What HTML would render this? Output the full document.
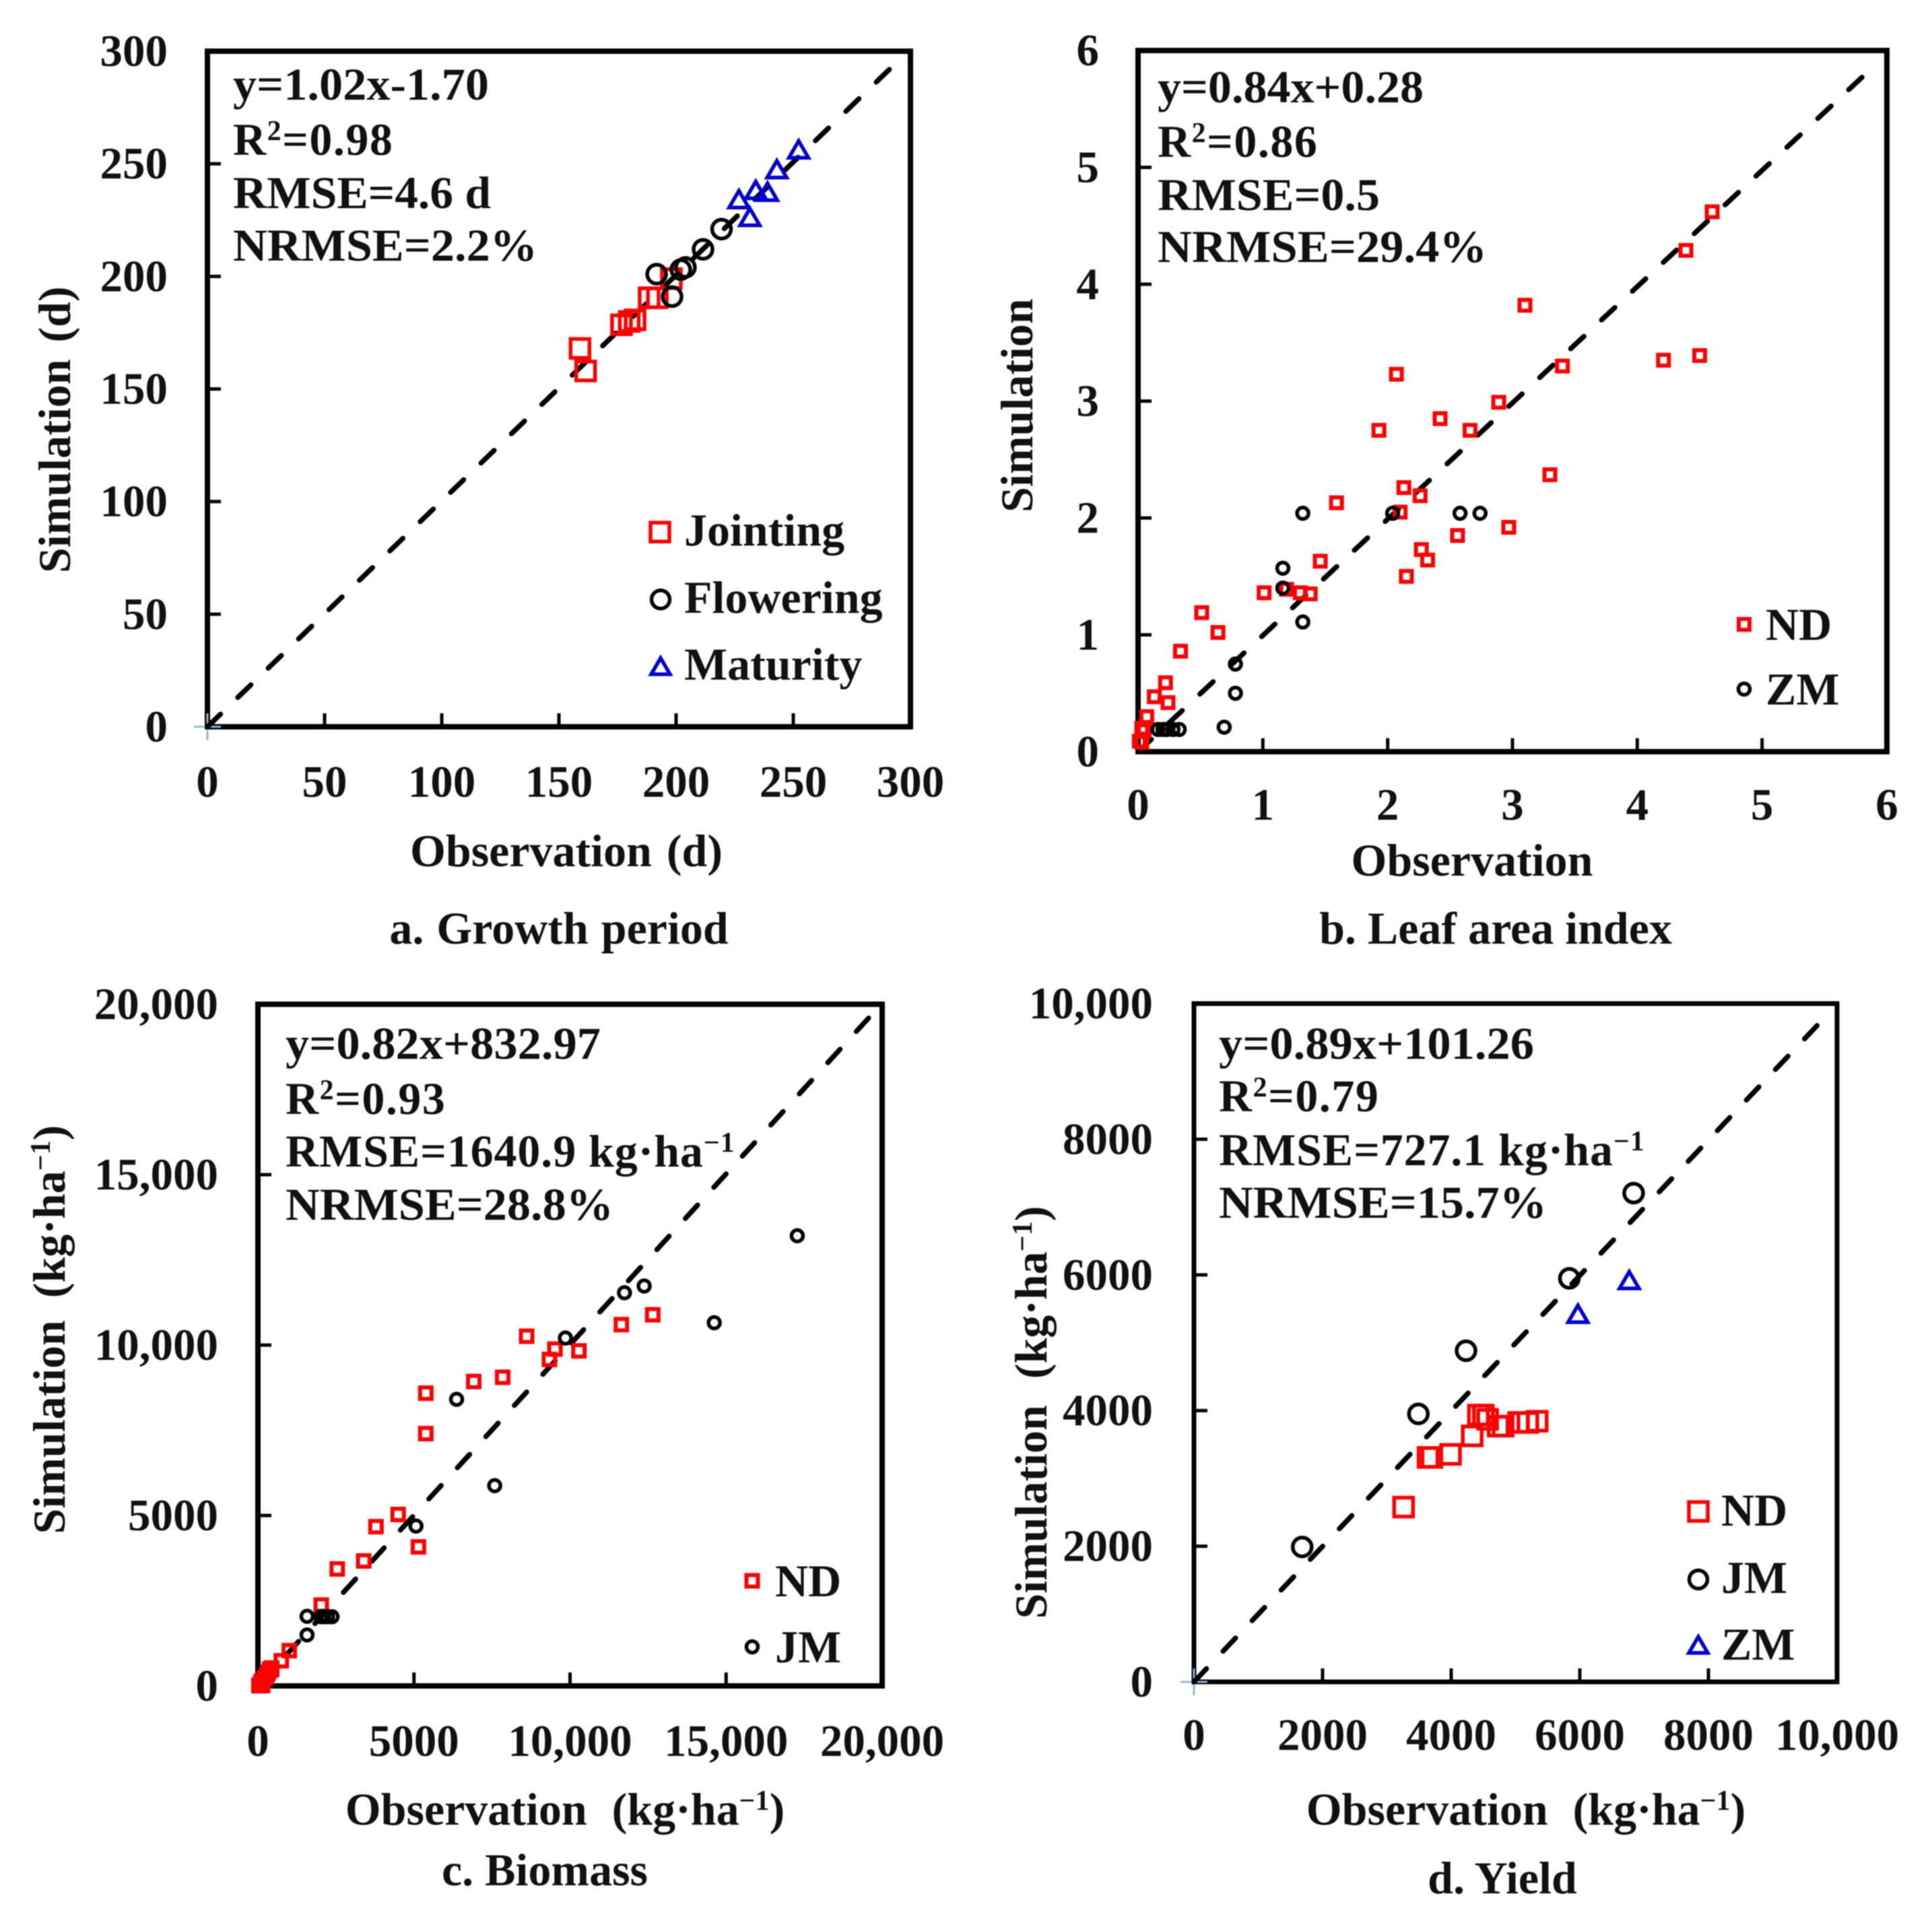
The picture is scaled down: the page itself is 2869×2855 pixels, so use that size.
<!DOCTYPE html>
<html lang="en">
<head>
<meta charset="utf-8">
<title>Simulation versus observation scatter plots</title>
<style>
html,body{margin:0;padding:0;background:#fff;}
#figure{display:block;width:2869px;height:2855px;background:#fff;filter:blur(0.9px);}
text{font-family:"Liberation Serif",serif;font-weight:bold;font-size:68px;fill:#111;}
.tick{font-size:67px;}
.sup{font-size:42px;}
.wide-r2{letter-spacing:1.5px;}
.wide-unit{letter-spacing:0.9px;}
</style>
</head>
<body>
<svg id="figure" xmlns="http://www.w3.org/2000/svg" width="2869" height="2855" viewBox="0 0 2869 2855">
  <g id="panel-a">
    <text x="346" y="148" textLength="380" lengthAdjust="spacingAndGlyphs">y=1.02x-1.70</text>
    <text x="346" y="230" class="wide-r2">R<tspan class="sup" dy="-22">2</tspan><tspan dy="22">=0.98</tspan></text>
    <text x="346" y="309" textLength="383" lengthAdjust="spacingAndGlyphs">RMSE=4.6 d</text>
    <text x="346" y="387" textLength="452" lengthAdjust="spacingAndGlyphs">NRMSE=2.2%</text>
    <text x="841" y="1286" text-anchor="middle" word-spacing="5">Observation (d)</text>
    <text x="104" y="638" text-anchor="middle" word-spacing="8" transform="rotate(-90 104 638)">Simulation (d)</text>
    <text x="830" y="1401" text-anchor="middle" word-spacing="2">a. Growth period</text>
    <g>
      <rect x="966" y="776" width="28" height="28" fill="none" stroke="#ff0000" stroke-width="5.5"/>
      <text x="1016" y="810">Jointing</text>
      <circle cx="981" cy="890" r="13.5" fill="none" stroke="#000" stroke-width="5.5"/>
      <text x="1016" y="910">Flowering</text>
      <polygon points="981,977 995,1001 967,1001" fill="none" stroke="#0000d0" stroke-width="5.5"/>
      <text x="1016" y="1009">Maturity</text>
    </g>
  </g>
  <g id="panel-b">
    <text x="1719" y="152" textLength="395" lengthAdjust="spacingAndGlyphs">y=0.84x+0.28</text>
    <text x="1719" y="233" class="wide-r2">R<tspan class="sup" dy="-22">2</tspan><tspan dy="22">=0.86</tspan></text>
    <text x="1719" y="312" textLength="330" lengthAdjust="spacingAndGlyphs">RMSE=0.5</text>
    <text x="1719" y="389" textLength="489" lengthAdjust="spacingAndGlyphs">NRMSE=29.4%</text>
    <text x="2186" y="1300" text-anchor="middle">Observation</text>
    <text x="1533" y="602" text-anchor="middle" transform="rotate(-90 1533 602)">Simulation</text>
    <text x="2221" y="1401" text-anchor="middle">b. Leaf area index</text>
    <g>
      <rect x="2582" y="919" width="16" height="16" fill="none" stroke="#ff0000" stroke-width="6"/>
      <text x="2622" y="950">ND</text>
      <circle cx="2590" cy="1023" r="8.5" fill="none" stroke="#000" stroke-width="5.5"/>
      <text x="2622" y="1046">ZM</text>
    </g>
  </g>
  <g id="panel-c">
    <text x="424" y="1572" textLength="468" lengthAdjust="spacingAndGlyphs">y=0.82x+832.97</text>
    <text x="424" y="1654" class="wide-r2">R<tspan class="sup" dy="-22">2</tspan><tspan dy="22">=0.93</tspan></text>
    <text x="424" y="1732" class="wide-unit">RMSE=1640.9 kg·ha<tspan class="sup" dy="-22">−1</tspan></text>
    <text x="424" y="1811" textLength="487" lengthAdjust="spacingAndGlyphs">NRMSE=28.8%</text>
    <text x="839" y="2709" text-anchor="middle" word-spacing="20">Observation (kg·ha<tspan class="sup" dy="-22">−1</tspan><tspan dy="22">)</tspan></text>
    <text x="96" y="1974" text-anchor="middle" word-spacing="16" transform="rotate(-90 96 1974)">Simulation (kg·ha<tspan class="sup" dy="-22">−1</tspan><tspan dy="22">)</tspan></text>
    <text x="809" y="2799" text-anchor="middle">c. Biomass</text>
    <g>
      <rect x="1108.5" y="2338.5" width="17" height="17" fill="none" stroke="#ff0000" stroke-width="6"/>
      <text x="1151" y="2370">ND</text>
      <circle cx="1117" cy="2445" r="8.5" fill="none" stroke="#000" stroke-width="5.5"/>
      <text x="1151" y="2468">JM</text>
    </g>
  </g>
  <g id="panel-d">
    <text x="1810" y="1572" textLength="468" lengthAdjust="spacingAndGlyphs">y=0.89x+101.26</text>
    <text x="1810" y="1650" class="wide-r2">R<tspan class="sup" dy="-22">2</tspan><tspan dy="22">=0.79</tspan></text>
    <text x="1810" y="1730" class="wide-unit">RMSE=727.1 kg·ha<tspan class="sup" dy="-22">−1</tspan></text>
    <text x="1810" y="1808" textLength="487" lengthAdjust="spacingAndGlyphs">NRMSE=15.7%</text>
    <text x="2266" y="2709" text-anchor="middle" word-spacing="20">Observation (kg·ha<tspan class="sup" dy="-22">−1</tspan><tspan dy="22">)</tspan></text>
    <text x="1554" y="2097" text-anchor="middle" word-spacing="22" transform="rotate(-90 1554 2097)">Simulation (kg·ha<tspan class="sup" dy="-22">−1</tspan><tspan dy="22">)</tspan></text>
    <text x="2231" y="2811" text-anchor="middle">d. Yield</text>
    <g>
      <rect x="2508" y="2230" width="28" height="28" fill="none" stroke="#ff0000" stroke-width="5.5"/>
      <text x="2556" y="2265">ND</text>
      <circle cx="2522" cy="2345" r="13.5" fill="none" stroke="#000" stroke-width="5.5"/>
      <text x="2556" y="2365">JM</text>
      <polygon points="2522,2430 2536,2454 2508,2454" fill="none" stroke="#0000d0" stroke-width="5.5"/>
      <text x="2556" y="2464">ZM</text>
    </g>
  </g>
</svg>
<script>
// Panel a: growth period (days)
const growthTicks = [0, 50, 100, 150, 200, 250, 300];
const growthTickLabels = ['0', '50', '100', '150', '200', '250', '300'];
const growthLineEnd = [293.6, 294.5];
const jointingObs = [159, 161.4, 176.7, 180, 182.5, 188.5, 192, 198];
const jointingSim = [168, 158, 178.5, 180, 180.7, 190.5, 190.5, 199];
const floweringObs = [191.7, 198.3, 202, 204, 211.5, 219.4];
const floweringSim = [201, 191, 203, 204, 212, 221];
const maturityObs = [226.8, 231.5, 234, 239, 243, 252.3];
const maturitySim = [233.7, 225.8, 237.8, 237, 247, 255.8];

// Panel b: leaf area index
const laiTicks = [0, 1, 2, 3, 4, 5, 6];
const laiTickLabels = ['0', '1', '2', '3', '4', '5', '6'];
const laiLineEnd = [5.84, 5.81];
const laiNdObs = [4.60, 4.39, 3.10, 4.21, 4.50, 3.40, 2.07, 2.89, 1.93, 2.42, 2.66, 3.30, 2.13, 2.26, 1.59, 2.10, 2.97, 2.56, 2.27, 2.32, 1.46, 2.15, 1.01, 1.19, 1.30, 1.38, 0.51, 0.64, 0.34, 0.22, 0.13, 0.24, 0.07, 0.03, 0.05, 0.01, 0.03];
const laiNdSim = [4.62, 4.29, 3.82, 3.35, 3.39, 3.30, 3.23, 2.99, 2.75, 2.85, 2.75, 2.37, 2.26, 2.19, 2.13, 2.05, 1.92, 1.85, 1.73, 1.64, 1.63, 1.50, 1.36, 1.39, 1.36, 1.35, 1.19, 1.02, 0.86, 0.59, 0.47, 0.42, 0.30, 0.20, 0.18, 0.09, 0.08];
const laiZmObs = [1.32, 2.58, 2.74, 2.04, 1.16, 1.16, 1.32, 0.78, 0.78, 0.69, 0.16, 0.20, 0.23, 0.28, 0.33];
const laiZmSim = [2.04, 2.04, 2.04, 2.04, 1.57, 1.40, 1.11, 0.75, 0.50, 0.21, 0.19, 0.19, 0.19, 0.19, 0.19];

// Panel c: biomass (kg/ha)
const biomassTicks = [0, 5000, 10000, 15000, 20000];
const biomassTickLabels = ['0', '5000', '10,000', '15,000', '20,000'];
const biomassLineEnd = [19700, 19730];
const biomassNdObs = [12650, 11645, 8610, 9517, 9340, 10285, 7842, 6916, 5379, 5379, 4493, 3783, 5143, 3389, 2542, 2030, 1005, 751, 443, 430, 372, 336, 300, 265, 200, 122, 100, 60, 30, 150];
const biomassNdSim = [10890, 10600, 10260, 9883, 9578, 9830, 9056, 8931, 8589, 7403, 5031, 4672, 4079, 3666, 3432, 2372, 1034, 738, 527, 470, 494, 395, 340, 263, 220, 66, 130, 40, 5, 10];
const biomassJmObs = [17280, 14620, 12375, 11744, 9852, 6365, 7586, 5064, 1574, 1574, 2017, 2100, 2230, 2375];
const biomassJmSim = [13208, 10656, 11734, 11536, 10207, 8410, 5876, 4690, 2042, 1495, 2030, 2030, 2030, 2030];

// Panel d: yield (kg/ha)
const yieldTicks = [0, 2000, 4000, 6000, 8000, 10000];
const yieldTickLabels = ['0', '2000', '4000', '6000', '8000', '10,000'];
const yieldLineEnd = [9788, 9774];
const yieldNdObs = [3260, 3640, 3700, 3990, 4327, 4423, 4500, 4567, 4730, 4808, 5048, 5192, 5337];
const yieldNdSim = [2577, 3309, 3309, 3354, 3626, 3933, 3933, 3870, 3770, 3770, 3825, 3825, 3843];
const yieldJmObs = [6837, 5837, 4231, 3490, 1683];
const yieldJmSim = [7206, 5949, 4882, 3951, 1989];
const yieldZmObs = [6769, 5971];
const yieldZmSim = [5904, 5407];

const SVG_NS = 'http://www.w3.org/2000/svg';

function svgEl(tag, attrs, parent) {
  const el = document.createElementNS(SVG_NS, tag);
  for (const key in attrs) el.setAttribute(key, attrs[key]);
  parent.appendChild(el);
  return el;
}

function drawMarks(group, xs, ys, sx, sy, shape, size, width, color) {
  xs.forEach(function (obs, i) {
    const cx = sx(obs);
    const cy = sy(ys[i]);
    let mark;
    if (shape === 'square') {
      mark = svgEl('rect', { x: cx - size / 2, y: cy - size / 2, width: size, height: size, fill: 'none', stroke: color, 'stroke-width': width }, group);
    } else if (shape === 'circle') {
      mark = svgEl('circle', { cx: cx, cy: cy, r: size / 2, fill: 'none', stroke: color, 'stroke-width': width }, group);
    } else {
      const h = size / 2;
      mark = svgEl('polygon', { points: cx + ',' + (cy - h) + ' ' + (cx + h) + ',' + (cy + h * 0.72) + ' ' + (cx - h) + ',' + (cy + h * 0.72), fill: 'none', stroke: color, 'stroke-width': width }, group);
    }
    
    
  });
}

function drawPanel(cfg) {
  const group = document.getElementById(cfg.id);
  const max = cfg.ticks[cfg.ticks.length - 1];
  const sx = function (v) { return cfg.left + v / max * (cfg.right - cfg.left); };
  const sy = function (v) { return cfg.bottom - v / max * (cfg.bottom - cfg.top); };

  const frame = svgEl('rect', { x: cfg.left, y: cfg.top, width: cfg.right - cfg.left, height: cfg.bottom - cfg.top, fill: 'none', stroke: '#000', 'stroke-width': cfg.frameWidth }, group);
  
  

  cfg.ticks.forEach(function (tick, i) {
    if (i > 0 && i < cfg.ticks.length - 1) {
      const xTick = svgEl('line', { x1: sx(tick), x2: sx(tick), y1: cfg.bottom, y2: cfg.bottom - 20, stroke: '#000', 'stroke-width': 5 }, group);
      
      
      const yTick = svgEl('line', { x1: cfg.left, x2: cfg.left + 20, y1: sy(tick), y2: sy(tick), stroke: '#000', 'stroke-width': 5 }, group);
      
      
    }
    const xLabel = svgEl('text', { x: sx(tick), y: cfg.xLabelY, 'text-anchor': 'middle', class: 'tick' }, group);
    xLabel.textContent = cfg.labels[i];
    
    
    const yLabel = svgEl('text', { x: cfg.yLabelX, y: sy(tick) + 22, 'text-anchor': 'end', class: 'tick' }, group);
    yLabel.textContent = cfg.labels[i];
    
    
  });

  if (cfg.originCross) {
    const crossH = svgEl('line', { x1: cfg.left - 20, x2: cfg.left + 20, y1: cfg.bottom, y2: cfg.bottom, stroke: '#8ab8e0', 'stroke-width': 3 }, group);
    
    
    const crossV = svgEl('line', { x1: cfg.left, x2: cfg.left, y1: cfg.bottom - 20, y2: cfg.bottom + 20, stroke: '#8ab8e0', 'stroke-width': 3 }, group);
    
    
  }

  const oneToOne = svgEl('line', { x1: sx(0), y1: sy(0), x2: sx(cfg.lineEnd[0]), y2: sy(cfg.lineEnd[1]), stroke: '#000', 'stroke-width': 7.5, 'stroke-linecap': 'round', 'stroke-dasharray': '27 35.7' }, group);
  
  

  cfg.series.forEach(function (s) {
    drawMarks(group, s.xs, s.ys, sx, sy, s.shape, s.size, s.width, s.color);
  });
}

const RED = '#ff0000';
const BLACK = '#000000';
const BLUE = '#0000d0';

drawPanel({
  id: 'panel-a', left: 308, right: 1352, top: 76, bottom: 1079, frameWidth: 8,
  ticks: growthTicks, labels: growthTickLabels, lineEnd: growthLineEnd,
  xLabelY: 1183, yLabelX: 249, originCross: true,
  series: [
    { xs: jointingObs, ys: jointingSim, shape: 'square', size: 28, width: 5.5, color: RED },
    { xs: floweringObs, ys: floweringSim, shape: 'circle', size: 28, width: 5.5, color: BLACK },
    { xs: maturityObs, ys: maturitySim, shape: 'triangle', size: 29, width: 5.5, color: BLUE }
  ]
});

drawPanel({
  id: 'panel-b', left: 1690, right: 2802, top: 75, bottom: 1116, frameWidth: 8,
  ticks: laiTicks, labels: laiTickLabels, lineEnd: laiLineEnd,
  xLabelY: 1217, yLabelX: 1632, originCross: false,
  series: [
    { xs: laiNdObs, ys: laiNdSim, shape: 'square', size: 16, width: 6, color: RED },
    { xs: laiZmObs, ys: laiZmSim, shape: 'circle', size: 17, width: 5.5, color: BLACK }
  ]
});

drawPanel({
  id: 'panel-c', left: 383, right: 1310, top: 1491, bottom: 2503, frameWidth: 8,
  ticks: biomassTicks, labels: biomassTickLabels, lineEnd: biomassLineEnd,
  xLabelY: 2607, yLabelX: 324, originCross: false,
  series: [
    { xs: biomassNdObs, ys: biomassNdSim, shape: 'square', size: 17, width: 6, color: RED },
    { xs: biomassJmObs, ys: biomassJmSim, shape: 'circle', size: 17, width: 5.5, color: BLACK }
  ]
});

drawPanel({
  id: 'panel-d', left: 1773, right: 2728, top: 1490, bottom: 2497, frameWidth: 7,
  ticks: yieldTicks, labels: yieldTickLabels, lineEnd: yieldLineEnd,
  xLabelY: 2598, yLabelX: 1712, originCross: true,
  series: [
    { xs: yieldNdObs, ys: yieldNdSim, shape: 'square', size: 28, width: 5.5, color: RED },
    { xs: yieldJmObs, ys: yieldJmSim, shape: 'circle', size: 28, width: 5.5, color: BLACK },
    { xs: yieldZmObs, ys: yieldZmSim, shape: 'triangle', size: 29, width: 5.5, color: BLUE }
  ]
});
</script>
</body>
</html>
